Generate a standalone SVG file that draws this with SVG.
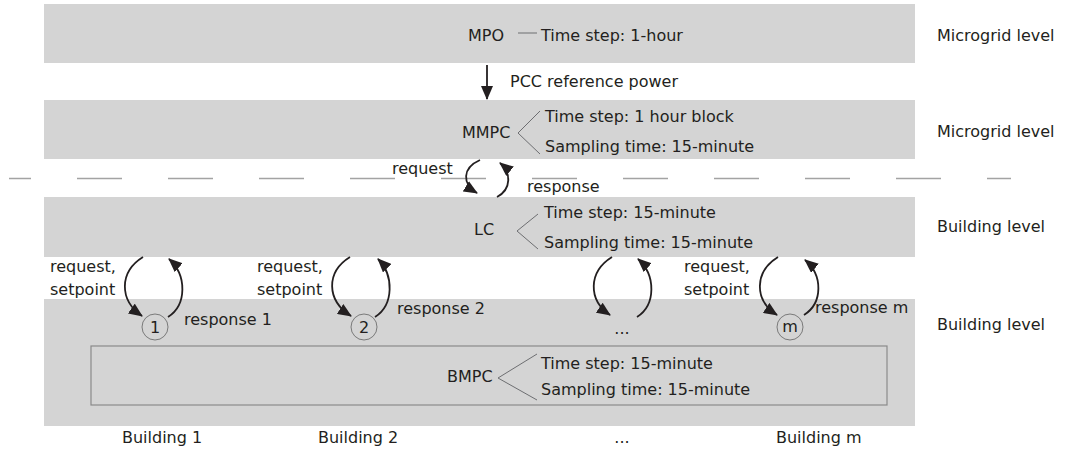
<svg xmlns="http://www.w3.org/2000/svg" width="1075" height="450" viewBox="0 0 1075 450">
  <style>
    .band { fill: #d4d4d4; }
    .txt { font-family: "DejaVu Sans", "Liberation Sans", sans-serif; font-size: 16px; fill: #231f20; }
    .brace { fill: none; stroke: #6d6e71; stroke-width: 1; }
    .flow { fill: none; stroke: #231f20; stroke-width: 1.8; marker-end: url(#head); }
    .node { fill: none; stroke: #7a7a7a; stroke-width: 1; }
  </style>
  <defs>
    <marker id="head" viewBox="0 0 14 12" refX="13" refY="6" markerWidth="14" markerHeight="12" markerUnits="userSpaceOnUse" orient="auto">
      <path d="M0,0 L14,6 L0,12 Z" fill="#231f20"/>
    </marker>
  </defs>

  <rect width="1075" height="450" fill="#ffffff"/>

  <!-- level bands -->
  <g id="band-mpo"><rect class="band" x="44" y="4" width="871" height="59"/></g>
  <g id="band-mmpc"><rect class="band" x="44" y="100" width="871" height="59"/></g>
  <g id="band-lc"><rect class="band" x="44" y="197" width="871" height="60"/></g>
  <g id="band-buildings"><rect class="band" x="44" y="299" width="871" height="127"/></g>

  <!-- microgrid / building boundary -->
  <line x1="9" y1="178.5" x2="1011" y2="178.5" stroke="#a3a3a3" stroke-width="1.5" stroke-dasharray="45 46" stroke-dashoffset="23"/>

  <!-- MPO -->
  <g id="mpo">
    <text class="txt" x="468" y="41">MPO</text>
    <line class="brace" x1="518" y1="33" x2="537" y2="33"/>
    <text class="txt" x="541" y="41">Time step: 1-hour</text>
  </g>
  <text class="txt" x="937" y="41">Microgrid level</text>

  <!-- MMPC -->
  <g id="mmpc">
    <text class="txt" x="462" y="138">MMPC</text>
    <polyline class="brace" points="540,111 518,133 540,154"/>
    <text class="txt" x="545" y="122">Time step: 1 hour block</text>
    <text class="txt" x="545" y="152">Sampling time: 15-minute</text>
  </g>
  <text class="txt" x="937" y="137">Microgrid level</text>

  <!-- LC -->
  <g id="lc">
    <text class="txt" x="474" y="235">LC</text>
    <polyline class="brace" points="538,214 517,231 538,249"/>
    <text class="txt" x="544" y="218">Time step: 15-minute</text>
    <text class="txt" x="544" y="248">Sampling time: 15-minute</text>
  </g>
  <text class="txt" x="937" y="232">Building level</text>

  <!-- building nodes -->
  <g id="building-1">
    <circle class="node" cx="155" cy="327" r="13"/>
    <text class="txt" x="155" y="333" text-anchor="middle" font-size="15">1</text>
  </g>
  <g id="building-2">
    <circle class="node" cx="364" cy="327" r="13"/>
    <text class="txt" x="364" y="333" text-anchor="middle" font-size="15">2</text>
  </g>
  <g id="building-dots">
    <text class="txt" x="622" y="334" text-anchor="middle">...</text>
  </g>
  <g id="building-m">
    <circle class="node" cx="790" cy="327" r="13"/>
    <text class="txt" x="790" y="332" text-anchor="middle" font-size="15">m</text>
  </g>
  <text class="txt" x="937" y="330">Building level</text>

  <!-- BMPC -->
  <g id="bmpc">
    <rect x="91" y="346" width="796" height="59" fill="none" stroke="#8a8a8a" stroke-width="1.2"/>
    <text class="txt" x="447" y="382">BMPC</text>
    <polyline class="brace" points="537,354 498,378 537,400"/>
    <text class="txt" x="541" y="369">Time step: 15-minute</text>
    <text class="txt" x="541" y="395">Sampling time: 15-minute</text>
  </g>

  <!-- connectors -->
  <g id="connectors">
    <line x1="487" y1="65" x2="487" y2="99" stroke="#231f20" stroke-width="1.8" marker-end="url(#head)"/>
    <path class="flow" d="M480,160 C462,168 462,184 477,193"/>
    <path class="flow" d="M497,197 C512,189 511,172 500,163"/>
    <path class="flow" d="M143,257 C119,272 119,300 142,316"/>
    <path class="flow" d="M168,317 C187,305 187,275 169,259"/>
    <path class="flow" d="M350,257 C326,272 326,300 351,316"/>
    <path class="flow" d="M375,317 C394,305 394,275 378,259"/>
    <path class="flow" d="M612,257 C588,272 588,300 610,315"/>
    <path class="flow" d="M637,317 C656,305 656,275 638,259"/>
    <path class="flow" d="M778,257 C754,272 754,300 777,315"/>
    <path class="flow" d="M804,315 C823,303 823,275 805,260"/>
  </g>

  <!-- connector labels -->
  <text class="txt" x="510" y="87">PCC reference power</text>
  <text class="txt" x="392" y="174">request</text>
  <text class="txt" x="527" y="192">response</text>
  <text class="txt" x="50" y="272">request,</text>
  <text class="txt" x="50" y="295">setpoint</text>
  <text class="txt" x="184" y="325">response 1</text>
  <text class="txt" x="257" y="272">request,</text>
  <text class="txt" x="257" y="295">setpoint</text>
  <text class="txt" x="397" y="314">response 2</text>
  <text class="txt" x="684" y="272">request,</text>
  <text class="txt" x="684" y="295">setpoint</text>
  <text class="txt" x="815" y="313">response m</text>

  <!-- building captions -->
  <text class="txt" x="122" y="443">Building 1</text>
  <text class="txt" x="318" y="443">Building 2</text>
  <text class="txt" x="622" y="443" text-anchor="middle">...</text>
  <text class="txt" x="776" y="443">Building m</text>
</svg>
